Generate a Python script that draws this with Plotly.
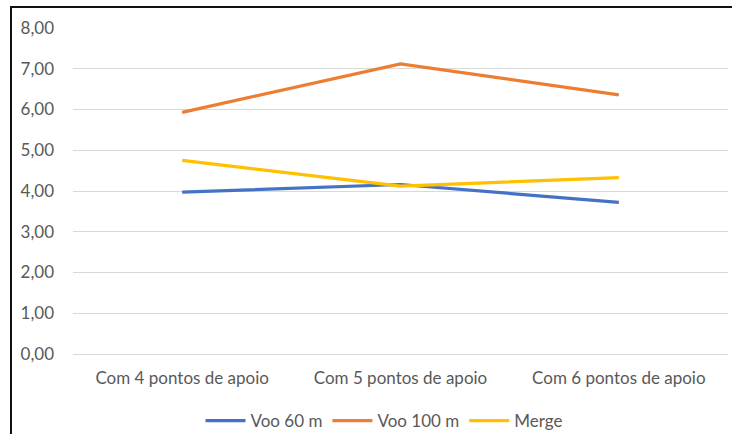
import plotly.graph_objects as go

# Categories and series values
categorias = ["Com 4 pontos de apoio", "Com 5 pontos de apoio", "Com 6 pontos de apoio"]
voo_60 = [3.97, 4.16, 3.72]
voo_100 = [5.93, 7.12, 6.36]
merge = [4.75, 4.12, 4.33]
y_ticks = [0, 1, 2, 3, 4, 5, 6, 7, 8]
y_tick_labels = ["0,00", "1,00", "2,00", "3,00", "4,00", "5,00", "6,00", "7,00", "8,00"]

FONT = "Lato"
GRAY = "#595959"
FS = 17

fig = go.Figure()
series = [
    ("Voo 60 m", voo_60, "#4472C4"),
    ("Voo 100 m", voo_100, "#ED7D31"),
    ("Merge", merge, "#FFC000"),
]
for nome, valores, cor in series:
    fig.add_trace(go.Scatter(
        x=categorias, y=valores, name=nome, mode="lines",
        line=dict(color=cor, width=3.2),
    ))

W, H = 732, 434
L, R, T, B = 73, 4, 28, 80
pw, ph = W - L - R, H - T - B

def px_x(p):
    return (p - L) / pw

def px_y(p):
    return (H - B - p) / ph

fig.update_layout(
    width=W, height=H,
    margin=dict(l=L, r=R, t=T, b=B, pad=0, autoexpand=False),
    paper_bgcolor="white", plot_bgcolor="white",
    font=dict(family=FONT, size=FS, color=GRAY),
    showlegend=True,
    legend=dict(
        orientation="h", x=px_x(384), xanchor="center",
        y=px_y(421), yanchor="middle",
        font=dict(family=FONT, size=FS, color=GRAY),
        itemwidth=40, tracegroupgap=0,
    ),
    xaxis=dict(
        type="category", range=[-0.5, 2.5], automargin=False,
        showgrid=False, showline=False, zeroline=False, ticks="",
        tickfont=dict(family=FONT, size=FS, color=GRAY),
        ticklabelstandoff=12, fixedrange=True,
    ),
    yaxis=dict(
        range=[0, 8], tickvals=y_ticks, ticktext=y_tick_labels, automargin=False,
        showgrid=True, gridcolor="#D9D9D9", gridwidth=1,
        zeroline=True, zerolinecolor="#D9D9D9", zerolinewidth=1,
        showline=False, ticks="",
        tickfont=dict(family=FONT, size=FS, color=GRAY),
        ticklabelstandoff=18, fixedrange=True,
    ),
    shapes=[
        dict(type="rect", xref="paper", yref="paper",
             x0=px_x(11), x1=px_x(760), y0=px_y(7), y1=px_y(470),
             line=dict(color="#111111", width=2), fillcolor="rgba(0,0,0,0)",
             layer="above"),
    ],
)

fig.write_html("out.html")
